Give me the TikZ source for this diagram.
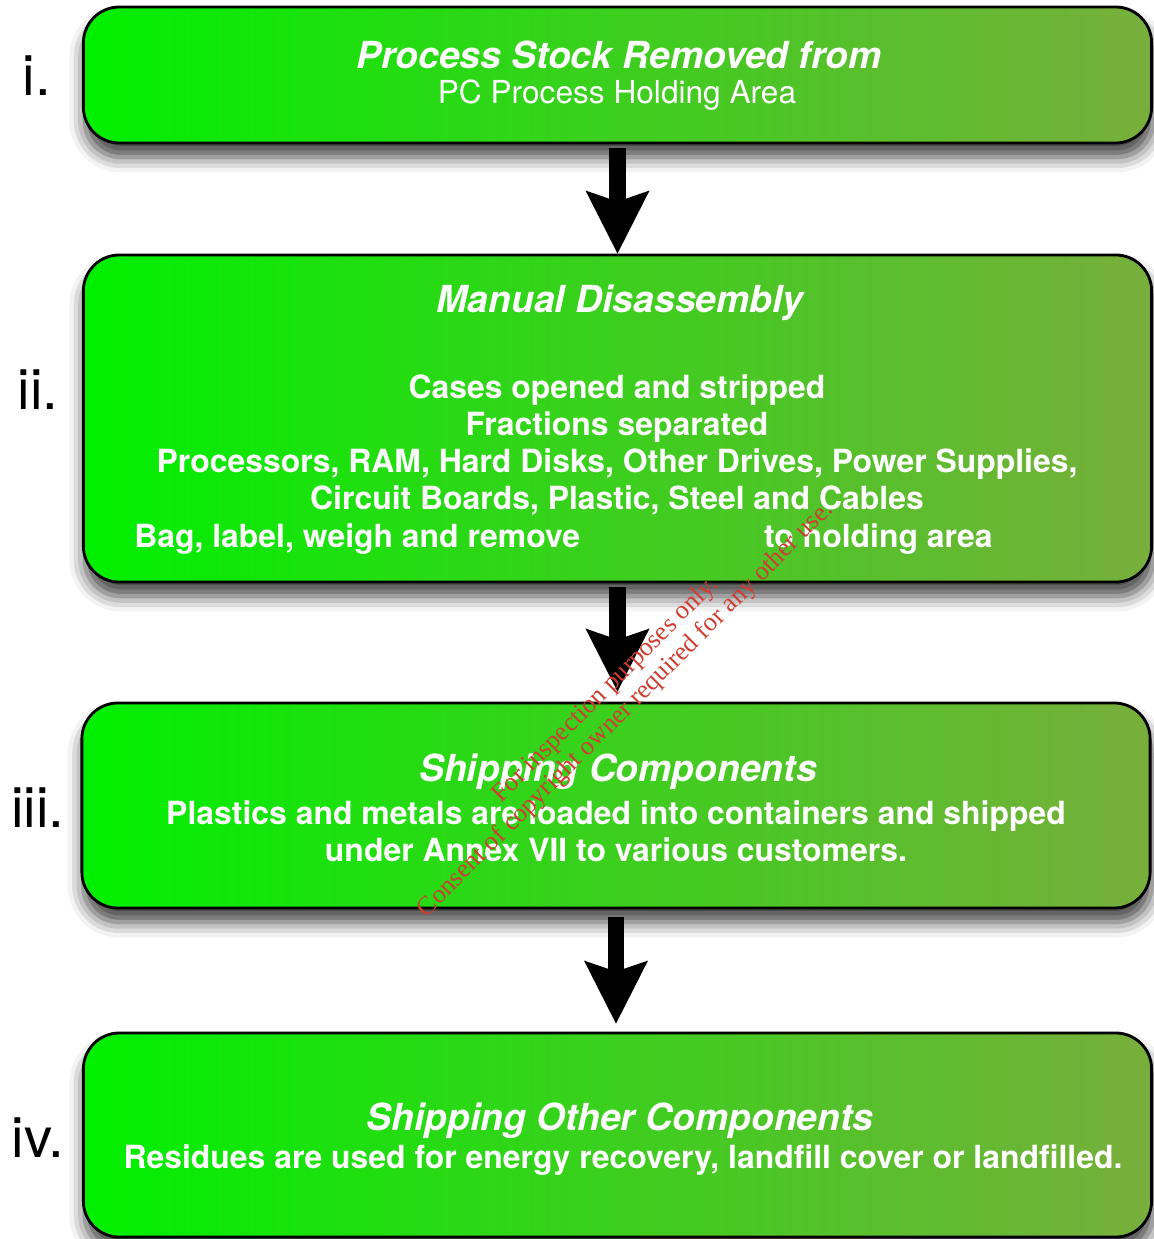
\documentclass[tikz,border=0pt]{standalone}
\usepackage{fontspec}
\setmainfont{TeX Gyre Heros}
\newfontfamily\stampfont{Liberation Serif}
\usepackage{tikz}
\usetikzlibrary{arrows.meta,positioning,calc,shadows.blur}
\definecolor{leafgreen}{RGB}{0,240,0}
\definecolor{olivegreen}{RGB}{120,174,60}
\definecolor{stampred}{RGB}{205,62,50}

\begin{document}
\begin{tikzpicture}[
    x=0.025cm, y=-0.025cm,
    stage/.style={rectangle, rounded corners=0.9cm, draw=black, line width=2pt, left color=leafgreen, right color=olivegreen, minimum width=26.7cm, blur shadow={shadow xshift=1pt, shadow yshift=-10pt, shadow blur radius=11pt, shadow opacity=75}},
    numeral/.style={font=\fontsize{40}{48}\selectfont},
    title/.style={text=white, font=\fontsize{26.5}{32}\selectfont\bfseries\itshape},
    body/.style={text=white, align=center, font=\fontsize{22.7}{26.3}\selectfont\bfseries},
    sub/.style={text=white, font=\fontsize{22.5}{27}\selectfont},
    flow/.style={line width=11.4pt, -{Stealth[length=1.575cm, width=1.6cm, inset=0.275cm, line width=0pt]}},
    stamp/.style={text=stampred, align=center, rotate=45, font=\stampfont\fontsize{18.6}{20}\selectfont}
]
\useasboundingbox (0,0) rectangle (1154,1239);

% Stage boxes
\node[stage, minimum height=3.4cm] (s1) at (617.5, 75) {};
\node[stage, minimum height=8.175cm] (s2) at (617.5, 418.5) {};
\node[stage, minimum height=5.125cm] (s3) at (616, 805.5) {};
\node[stage, minimum height=5.1cm] (s4) at (617.5, 1135) {};

% Step numbers
\node[numeral] (n1) at (37, 76) {i.};
\node[numeral] (n2) at (38, 390) {ii.};
\node[numeral] (n3) at (38, 808) {iii.};
\node[numeral] (n4) at (38, 1138) {iv.};

% Stage i
\node[title] (t1) at (619, 55) {Process Stock Removed from};
\node[sub] (b1) at (617, 95) {PC Process Holding Area};

% Stage ii
\node[title] (t2) at (620, 303) {Manual Disassembly};
\node[body] (b2) at (617, 445) {Cases opened and stripped\\Fractions separated\\Processors, RAM, Hard Disks, Other Drives, Power Supplies,\\Circuit Boards, Plastic, Steel and Cables};
\node[body] (b2x) at (563.5, 539) {Bag, label, weigh and remove\hspace{4.6cm}to holding area};

% Stage iii
\node[title] (t3) at (618, 772) {Shipping Components};
\node[body] (b3) at (616, 831) {Plastics and metals are loaded into containers and shipped\\under Annex VII to various customers.};

% Stage iv
\node[title] (t4) at (620, 1121) {Shipping Other Components};
\node[body] (b4) at (623, 1160) {Residues are used for energy recovery, landfill cover or landfilled.};

% Flow arrows
\draw[flow] ([yshift=-0.1cm]s1.south) -- (s2.north);
\draw[flow, shorten >=0.25cm] ([yshift=-0.1cm]s2.south) -- (s2.south |- s3.north);
\draw[flow, shorten >=0.2cm] ([yshift=-0.2cm]s3.south) -- (s3.south |- s4.north);

% Stamp
\node[stamp] (wm) at (616, 700) {For inspection purposes only.\\Consent of copyright owner required for any other use.};

\end{tikzpicture}
\end{document}
